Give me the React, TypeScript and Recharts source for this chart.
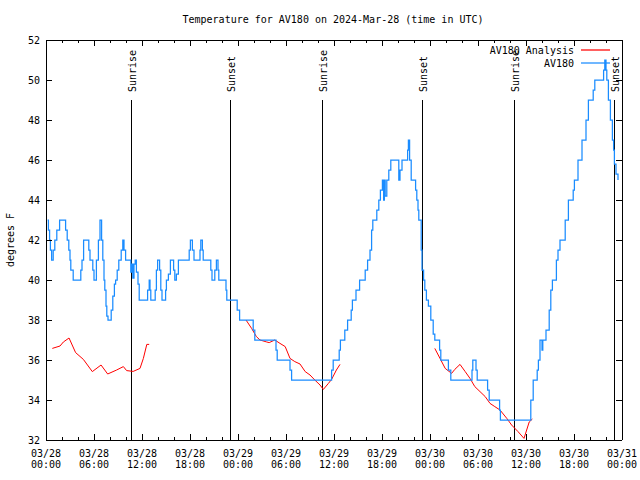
import { LineChart, Line, XAxis, YAxis, ReferenceLine, Legend } from 'recharts'

const FONT = '"DejaVu Sans Mono", "Liberation Mono", monospace'
const BLUE = '#1a8cff'
const RED = '#ff0000'

// hours since 03/28 00:00 UTC
const hourTicks = Array.from({ length: 37 }, (_, i) => i * 2)
const tempTicks = [32, 34, 36, 38, 40, 42, 44, 46, 48, 50, 52]
const dateLabels = ['03/28', '03/28', '03/28', '03/28', '03/29', '03/29', '03/29', '03/29', '03/30', '03/30', '03/30', '03/30', '03/31']
const timeLabels = ['00:00', '06:00', '12:00', '18:00', '00:00', '06:00', '12:00', '18:00', '00:00', '06:00', '12:00', '18:00', '00:00']

// station observations [hour, degF]
const observed: [number, number][] = [
  [0.2, 43], [0.3, 42.5], [0.45, 42], [0.55, 41.5], [0.7, 41], [0.9, 41.5], [1.1, 42], [1.35, 42.5],
  [1.7, 43], [2.45, 42.5], [2.65, 42], [2.85, 41.5], [3.0, 41], [3.1, 40.5], [3.4, 40], [4.35, 40.5],
  [4.5, 41], [4.7, 42], [5.35, 41.5], [5.5, 41], [5.85, 40.5], [6.0, 40], [6.3, 41], [6.55, 42],
  [6.75, 43], [6.95, 42], [7.1, 41], [7.25, 40], [7.35, 39.5], [7.5, 38.7], [7.6, 38.2], [7.75, 38],
  [8.15, 38.5], [8.35, 39.2], [8.55, 39.8], [8.7, 40], [8.9, 40.5], [9.1, 41], [9.4, 41.5], [9.6, 42],
  [9.75, 41.5], [9.95, 41], [10.6, 40.4], [10.75, 40.8], [10.85, 40.1], [11.0, 40.8], [11.15, 41],
  [11.3, 40.4], [11.5, 39.8], [11.65, 39], [12.7, 39.5], [12.9, 40], [13.0, 39.5], [13.1, 39],
  [13.65, 39.5], [13.8, 40.5], [13.95, 41], [14.2, 40.5], [14.35, 39.5], [14.5, 39], [14.95, 39.5],
  [15.05, 40], [15.3, 40.3], [15.55, 41], [15.95, 40.5], [16.1, 40], [16.3, 40.3], [16.55, 41],
  [17.9, 41.5], [18.05, 42], [18.3, 41.5], [18.5, 41], [19.25, 41.5], [19.35, 42], [19.55, 41.5],
  [19.65, 41], [20.6, 40.5], [20.75, 40], [21.1, 40.5], [21.3, 41], [21.5, 40.5], [21.6, 40],
  [22.5, 39.5], [22.6, 39], [23.9, 38.5], [24.2, 38], [25.9, 37.5], [26.1, 37], [28.75, 36.5],
  [28.9, 36], [30.5, 35.5], [30.7, 35], [35.7, 35.5], [35.9, 36], [36.65, 36.5], [36.8, 37],
  [37.35, 37.5], [37.7, 38], [38.15, 38.5], [38.3, 39], [38.75, 39.5], [39.2, 40], [39.9, 40.5],
  [40.2, 41], [40.5, 41.5], [40.7, 42.5], [40.85, 43], [41.35, 43.5], [41.6, 44], [41.8, 44.5],
  [42.05, 45], [42.2, 44], [42.3, 45], [42.4, 44.2], [42.6, 45], [42.85, 45.5], [43.1, 46],
  [44.1, 45], [44.25, 45.5], [44.5, 46], [45.2, 46.5], [45.3, 47], [45.45, 46], [45.65, 45],
  [46.2, 44.5], [46.35, 44], [46.5, 43.5], [46.6, 43], [46.9, 41.5], [47.0, 40.5], [47.2, 40],
  [47.35, 39.5], [47.55, 39], [47.8, 38.7], [48.1, 38], [48.4, 37.3], [48.6, 37], [49.2, 36.5],
  [49.35, 36], [50.3, 35.5], [50.6, 35], [53.25, 35.5], [53.35, 36], [53.75, 35.5], [53.9, 35],
  [55.2, 34.5], [55.4, 34], [56.7, 33.5], [56.8, 33], [60.6, 34], [60.9, 35], [61.4, 35.5],
  [61.55, 36], [61.75, 37], [62.0, 36.5], [62.1, 37], [62.5, 37.5], [62.9, 38.5], [63.1, 39.5],
  [63.3, 40], [63.8, 41], [64.0, 41.5], [64.25, 42], [64.9, 43], [65.3, 44], [65.9, 44.5],
  [66.05, 45], [66.5, 46], [67.0, 47], [67.5, 48], [67.8, 49], [68.4, 49.5], [68.6, 50],
  [69.7, 50.5], [69.85, 51], [70.0, 50.5], [70.1, 50], [70.3, 49], [70.55, 48], [70.8, 47],
  [70.95, 46.5], [71.05, 45.8], [71.25, 45.3], [71.5, 45],
]

// analysis runs [hour, degF]
const analysisDay1: [number, number][] = [
  [0.79, 36.58], [1.75, 36.7], [2.17, 36.9], [2.88, 37.1], [3.7, 36.37], [4.67, 36.03], [5.79, 35.42],
  [6.88, 35.75], [7.71, 35.3], [8.83, 35.5], [9.67, 35.67], [10.08, 35.47], [10.9, 35.43],
  [11.75, 35.58], [12.17, 36.08], [12.6, 36.78], [12.9, 36.78],
]
const analysisDay2: [number, number][] = [
  [25.0, 38.0], [25.7, 37.58], [26.3, 37.17], [26.75, 37.0], [27.6, 36.9], [27.9, 36.87], [28.6, 37.0],
  [29.25, 36.83], [29.9, 36.67], [30.5, 36.08], [31.1, 35.92], [31.75, 35.8], [32.4, 35.42],
  [33.0, 35.25], [33.6, 35.0], [34.25, 34.75], [34.67, 34.53], [35.3, 34.83], [35.7, 35.03],
  [36.3, 35.5], [36.75, 35.78],
]
const analysisDay3: [number, number][] = [
  [48.6, 36.58], [49.25, 36.08], [49.9, 35.58], [50.7, 35.33], [51.1, 35.53], [51.75, 35.78],
  [52.4, 35.42], [53.0, 35.08], [53.6, 34.67], [54.25, 34.42], [54.9, 34.17], [55.5, 33.83],
  [56.1, 33.67], [56.75, 33.5], [57.6, 33.08], [58.2, 32.75], [59.0, 32.42], [59.75, 32.08],
  [60.4, 32.9], [60.8, 33.05],
]

const sunEvents = [
  { h: 10.63, label: 'Sunrise' },
  { h: 23.03, label: 'Sunset' },
  { h: 34.6, label: 'Sunrise' },
  { h: 47.05, label: 'Sunset' },
  { h: 58.55, label: 'Sunrise' },
  { h: 71.07, label: 'Sunset' },
]

const legendItems = [
  { name: 'AV180 Analysis', color: RED },
  { name: 'AV180', color: BLUE },
]

const toPoints = (rows: [number, number][]) => rows.map(([h, v]) => ({ h, v }))

function BottomTick({ x, y, payload }: any) {
  const major = payload.value % 6 === 0
  const i = payload.value / 6
  return (
    <g>
      <line x1={x} y1={y} x2={x} y2={y - (major ? 6 : 3)} stroke="#000" shapeRendering="crispEdges" />
      {major && (
        <text x={x} y={y} textAnchor="middle" fontFamily={FONT} fontSize={10} fill="#000">
          <tspan x={x} dy={17}>{dateLabels[i]}</tspan>
          <tspan x={x} dy={11}>{timeLabels[i]}</tspan>
        </text>
      )}
    </g>
  )
}

function TopTick({ x, y, payload }: any) {
  const major = payload.value % 6 === 0
  return <line x1={x} y1={y} x2={x} y2={y + (major ? 6 : 3)} stroke="#000" shapeRendering="crispEdges" />
}

function LeftTick({ x, y, payload }: any) {
  return (
    <g>
      <line x1={x} y1={y} x2={x + 6} y2={y} stroke="#000" shapeRendering="crispEdges" />
      <text x={x - 6} y={y} dy={3.5} textAnchor="end" fontFamily={FONT} fontSize={10} fill="#000">
        {payload.value}
      </text>
    </g>
  )
}

function RightTick({ x, y }: any) {
  return <line x1={x} y1={y} x2={x - 6} y2={y} stroke="#000" shapeRendering="crispEdges" />
}

function SunLabel({ viewBox, text }: any) {
  const x = viewBox.x + 1
  const y = viewBox.y - 8
  return (
    <text x={x} y={y} transform={`rotate(-90 ${x} ${y})`} textAnchor="start" dominantBaseline="central"
      fontFamily={FONT} fontSize={10} fill="#000">
      {text}
    </text>
  )
}

function renderLegend() {
  return (
    <div style={{ fontFamily: FONT, fontSize: 10, color: '#000' }}>
      {legendItems.map(it => (
        <div key={it.name} style={{ display: 'flex', justifyContent: 'flex-end', alignItems: 'center', height: 13 }}>
          <span style={{ whiteSpace: 'pre' }}>{it.name}</span>
          <svg width={36} height={4} style={{ display: 'block' }}>
            <line x1={7} y1={2} x2={36} y2={2} stroke={it.color} strokeWidth={1.25} />
          </svg>
        </div>
      ))}
    </div>
  )
}

const axisStroke = { stroke: '#000', shapeRendering: 'crispEdges' }

export default function App() {
  return (
    <div style={{ position: 'absolute', left: 0, top: 0, width: 640, height: 480, background: '#fff' }}>
      <div style={{
        position: 'absolute', left: 0, top: 13, width: 666, textAlign: 'center',
        fontFamily: FONT, fontSize: 10, lineHeight: '14px', color: '#000',
      }}>
        Temperature for AV180 on 2024-Mar-28 (time in UTC)
      </div>
      <LineChart width={640} height={480} margin={{ top: 39, right: 17, bottom: 0, left: 0 }}>
        <XAxis dataKey="h" type="number" domain={[0, 72]} ticks={hourTicks} interval={0}
          height={40} tickSize={0} tickMargin={0} tickLine={false} tick={<BottomTick />}
          axisLine={axisStroke} allowDataOverflow />
        <XAxis xAxisId="top" orientation="top" dataKey="h" type="number" domain={[0, 72]} ticks={hourTicks}
          interval={0} height={1} tickSize={0} tickMargin={0} tickLine={false} tick={<TopTick />}
          axisLine={axisStroke} allowDataOverflow />
        <YAxis type="number" domain={[32, 52]} ticks={tempTicks} interval={0} width={46}
          tickSize={0} tickMargin={0} tickLine={false} tick={<LeftTick />} axisLine={axisStroke}
          allowDataOverflow
          label={{
            content: ({ viewBox }: any) => {
              const cx = viewBox.x + 10
              const cy = viewBox.y + viewBox.height / 2
              return (
                <text x={cx} y={cy} transform={`rotate(-90 ${cx} ${cy})`} textAnchor="middle"
                  dominantBaseline="central" fontFamily={FONT} fontSize={10} fill="#000">
                  degrees F
                </text>
              )
            },
          }} />
        <YAxis yAxisId="right" orientation="right" type="number" domain={[32, 52]} ticks={tempTicks}
          interval={0} width={1} tickSize={0} tickMargin={0} tickLine={false} tick={<RightTick />}
          axisLine={axisStroke} allowDataOverflow />
        <Legend layout="horizontal" verticalAlign="middle" align="center" content={renderLegend}
          wrapperStyle={{ position: 'absolute', top: 43.5, right: 30, left: 'auto', width: 'auto' }} />
        {sunEvents.map((s, i) => (
          <ReferenceLine key={i} segment={[{ x: s.h, y: 32 }, { x: s.h, y: 49 }]} stroke="#000"
            strokeWidth={1} shapeRendering="crispEdges" ifOverflow="visible"
            label={(p: any) => <SunLabel {...p} text={s.label} />} />
        ))}
        <Line data={toPoints(analysisDay1)} dataKey="v" type="linear" stroke={RED} strokeWidth={1}
          dot={false} activeDot={false} isAnimationActive={false} legendType="none" />
        <Line data={toPoints(analysisDay2)} dataKey="v" type="linear" stroke={RED} strokeWidth={1}
          dot={false} activeDot={false} isAnimationActive={false} legendType="none" />
        <Line data={toPoints(analysisDay3)} dataKey="v" type="linear" stroke={RED} strokeWidth={1}
          dot={false} activeDot={false} isAnimationActive={false} legendType="none" />
        <Line data={toPoints(observed)} dataKey="v" type="stepAfter" stroke={BLUE} strokeWidth={1.25}
          dot={false} activeDot={false} isAnimationActive={false} legendType="none" />
      </LineChart>
    </div>
  )
}
